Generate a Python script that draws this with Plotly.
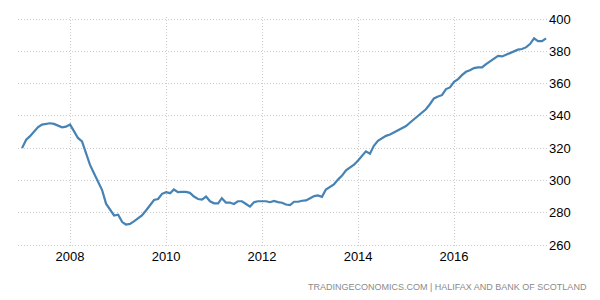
import pandas as pd
import plotly.graph_objects as go

# Monthly index, Jan 2007 - Dec 2017
start_month = "2007-01-01"
values = [
    320.0, 325.2, 327.3, 330.4, 332.9, 334.6, 335.0, 335.4, 335.0, 334.2, 332.9, 333.3,
    334.6, 330.4, 326.3, 324.2, 316.9, 309.6, 304.4, 299.2, 294.0, 285.6, 281.5, 278.3,
    278.8, 274.2, 272.7, 273.1, 274.6, 276.3, 278.3, 281.4, 284.6, 287.9, 288.5, 291.7,
    292.7, 292.1, 294.4, 292.7, 292.9, 292.9, 292.3, 290.0, 288.5, 288.1, 290.0, 287.1,
    285.8, 285.8, 289.0, 286.3, 286.3, 285.4, 287.1, 287.1, 285.4, 283.8, 286.5, 287.1,
    287.1, 287.1, 286.5, 287.3, 286.6, 286.2, 285.1, 284.7, 286.8, 286.8, 287.4, 287.6,
    289.0, 290.3, 290.7, 289.8, 294.4, 296.0, 297.6, 300.5, 303.0, 306.3, 307.9, 309.7,
    312.4, 315.7, 318.0, 316.5, 321.4, 324.5, 326.0, 327.6, 328.4, 329.6, 330.9, 332.5,
    333.7, 335.9, 337.9, 340.0, 342.1, 344.1, 347.2, 350.8, 352.0, 352.8, 356.6, 357.6,
    361.1, 362.8, 365.2, 367.3, 368.3, 369.6, 370.0, 370.0, 372.1, 373.9, 375.8, 377.2,
    376.8, 377.9, 378.9, 379.7, 381.0, 381.4, 382.4, 384.5, 388.0, 386.3, 386.3, 388.0,
]
dates = pd.date_range(start_month, periods=len(values), freq="MS")

y_ticks = [260, 280, 300, 320, 340, 360, 380, 400]
x_ticks = ["2008-01-01", "2010-01-01", "2012-01-01", "2014-01-01", "2016-01-01"]
x_tick_labels = ["2008", "2010", "2012", "2014", "2016"]
source_text = "TRADINGECONOMICS.COM | HALIFAX AND BANK OF SCOTLAND"

FONT = "Liberation Sans, Arial, sans-serif"

fig = go.Figure()
fig.add_trace(go.Scatter(
    x=dates, y=values, mode="lines",
    line=dict(color="#4682b4", width=2.2),
    hoverinfo="skip", showlegend=False,
))

grid = dict(showgrid=True, gridcolor="#cccccc", griddash="1px,2px", gridwidth=1)

fig.update_layout(
    width=600, height=300,
    margin=dict(l=18, r=52, t=17, b=53),
    paper_bgcolor="white", plot_bgcolor="white",
    font=dict(family=FONT, size=13, color="#000000"),
    xaxis=dict(
        type="date",
        range=["2006-12-01", "2017-12-16"],
        tickvals=x_ticks, ticktext=x_tick_labels,
        showline=False, zeroline=False, ticks="",
        tickfont=dict(family=FONT, size=13, color="#000000"),
        **grid,
    ),
    yaxis=dict(
        side="right",
        range=[258.76, 401.24],
        tickvals=y_ticks,
        showline=False, zeroline=False, ticks="",
        tickfont=dict(family=FONT, size=13, color="#000000"),
        **grid,
    ),
    annotations=[dict(
        text=source_text, xref="paper", yref="paper",
        x=(589 - 18) / 530, y=(300 - 53 - 286.5) / 230,
        xanchor="right", yanchor="middle", showarrow=False,
        font=dict(family=FONT, size=9, color="#8a8a8a"),
    )],
)

fig.write_html("out.html")
